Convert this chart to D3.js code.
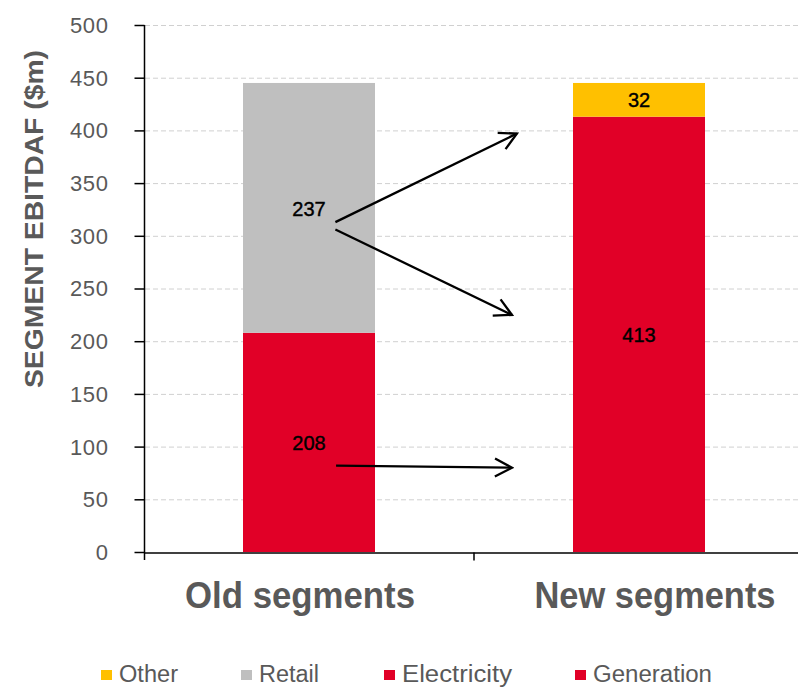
<!DOCTYPE html>
<html>
<head>
<meta charset="utf-8">
<script src="https://cdn.jsdelivr.net/npm/d3@7"></script>
<style>
  body { margin: 0; background: #fff; }
</style>
</head>
<body>
<div id="container"></div>
<script>
const w = 798;
const h = 687;

// chart data
const categories = ['Old segments', 'New segments'];
const seriesNames = ['Generation', 'Retail', 'Electricity', 'Other'];
const seriesColors = ['#e10027', '#bfbfbf', '#e10027', '#ffc000'];
const generation = [208, 0];
const retail = [237, 0];
const electricity = [0, 413];
const other = [0, 32];
const yTicks = [0, 50, 100, 150, 200, 250, 300, 350, 400, 450, 500];
const legendOrder = ['Other', 'Retail', 'Electricity', 'Generation'];

// arrows: from a point in one band to a point in another, band position as fraction
const arrows = [
  { from: ['Old segments', 0.58, 313], to: ['New segments', 0.13, 397] },
  { from: ['Old segments', 0.58, 306], to: ['New segments', 0.115, 225] },
  { from: ['Old segments', 0.582, 82], to: ['New segments', 0.115, 80] }
];

const grey = '#595959';

const svg = d3.select('#container')
  .append('svg')
  .attr('width', w)
  .attr('height', h)
  .attr('viewBox', [0, 0, w, h]);

const x = d3.scaleBand()
  .domain(categories)
  .range([144, 804])
  .padding(0);

const y = d3.scaleLinear()
  .domain([0, 500])
  .range([552, 25]);

const barW = x.bandwidth() * 0.4;

// grid lines
svg.append('g')
  .selectAll('line')
  .data(yTicks.filter(d => d > 0))
  .enter()
  .append('line')
  .attr('x1', 145)
  .attr('x2', w)
  .attr('y1', d => y(d) + 0.5)
  .attr('y2', d => y(d) + 0.5)
  .attr('stroke', '#d0d0d0')
  .attr('stroke-dasharray', '5,3');

// stacked bars
const table = categories.map((c, i) => ({
  cat: c,
  Generation: generation[i],
  Retail: retail[i],
  Electricity: electricity[i],
  Other: other[i]
}));

const stack = d3.stack().keys(seriesNames)(table);

const layers = svg.append('g')
  .selectAll('g')
  .data(stack)
  .enter()
  .append('g')
  .attr('fill', (d, i) => seriesColors[i]);

layers.selectAll('rect')
  .data(d => d.filter(s => s[1] - s[0] > 0))
  .enter()
  .append('rect')
  .attr('x', d => x(d.data.cat) + (x.bandwidth() - barW) / 2)
  .attr('y', d => y(d[1]))
  .attr('height', d => y(d[0]) - y(d[1]))
  .attr('width', barW);

// value labels
layers.selectAll('text')
  .data(d => d.filter(s => s[1] - s[0] > 0))
  .enter()
  .append('text')
  .attr('x', d => x(d.data.cat) + x.bandwidth() / 2)
  .attr('y', d => d[1] - d[0] < 50 ? y((d[0] + d[1]) / 2) + 7 : y((d[0] + d[1]) / 2) + 8)
  .attr('text-anchor', 'middle')
  .attr('fill', '#000')
  .attr('stroke', '#000')
  .attr('stroke-width', 0.4)
  .style('font-family', '"Liberation Sans", Arial, sans-serif')
  .style('font-size', '20px')
  .text(d => d[1] - d[0]);

// axes
const yAxis = d3.axisLeft(y)
  .tickValues(yTicks)
  .tickSize(10)
  .tickPadding(26);

const gy = svg.append('g')
  .attr('transform', 'translate(144.5,0)')
  .call(yAxis);

gy.select('.domain').attr('stroke', '#000').attr('stroke-width', 1.5)
  .attr('d', 'M0,' + y(500) + 'V' + (y(0) + 8));
gy.selectAll('.tick line').attr('stroke', '#000').attr('stroke-width', 1.5);
gy.selectAll('.tick text')
  .attr('fill', grey)
  .attr('dy', '0.34em')
  .style('font-family', '"Liberation Sans", Arial, sans-serif')
  .style('font-size', '22px')
  .style('letter-spacing', '0.6px');

const xAxis = d3.axisBottom(x).tickSize(0).tickFormat('');
const gx = svg.append('g')
  .attr('transform', 'translate(0,' + (y(0) + 0.5) + ')')
  .call(xAxis);
gx.select('.domain').attr('stroke', '#000').attr('stroke-width', 1.5);

// separator tick between categories
gx.append('line')
  .attr('x1', x(categories[1]))
  .attr('x2', x(categories[1]))
  .attr('y1', 0)
  .attr('y2', 8)
  .attr('stroke', '#000')
  .attr('stroke-width', 1.5);

// category labels
const labelShift = [-9, 16];
const labelLen = [230, 241];
svg.append('g')
  .selectAll('text')
  .data(categories)
  .enter()
  .append('text')
  .attr('x', (d, i) => x(d) + x.bandwidth() / 2 + labelShift[i])
  .attr('y', 608)
  .attr('text-anchor', 'middle')
  .attr('fill', grey)
  .style('font-family', '"Liberation Sans", Arial, sans-serif')
  .style('font-weight', 'bold')
  .style('font-size', '36px')
  .attr('textLength', (d, i) => labelLen[i])
  .attr('lengthAdjust', 'spacingAndGlyphs')
  .text(d => d);

// y title
svg.append('text')
  .attr('transform', 'translate(43,219) rotate(-90)')
  .attr('text-anchor', 'middle')
  .attr('fill', grey)
  .style('font-family', '"Liberation Sans", Arial, sans-serif')
  .style('font-weight', 'bold')
  .style('font-size', '25px')
  .attr('textLength', 338)
  .attr('lengthAdjust', 'spacingAndGlyphs')
  .text('SEGMENT EBITDAF ($m)');

// arrows
svg.append('defs').append('marker')
  .attr('id', 'arrow')
  .attr('viewBox', '0 0 22 22')
  .attr('refX', 20)
  .attr('refY', 11)
  .attr('markerWidth', 22)
  .attr('markerHeight', 22)
  .attr('markerUnits', 'userSpaceOnUse')
  .attr('orient', 'auto')
  .append('path')
  .attr('d', 'M3,2 L20,11 L3,20')
  .attr('fill', 'none')
  .attr('stroke', '#000')
  .attr('stroke-width', 2.3);

const px = (cat, f) => x(cat) + x.bandwidth() * f;

svg.append('g')
  .selectAll('line')
  .data(arrows)
  .enter()
  .append('line')
  .attr('x1', d => px(d.from[0], d.from[1]))
  .attr('y1', d => y(d.from[2]))
  .attr('x2', d => px(d.to[0], d.to[1]))
  .attr('y2', d => y(d.to[2]))
  .attr('stroke', '#000')
  .attr('stroke-width', 2.3)
  .attr('marker-end', 'url(#arrow)');

// legend
const legendX = [101, 241, 384, 575];
const legendLen = [59, 60, 110, 119];
const legend = svg.append('g')
  .selectAll('g')
  .data(legendOrder)
  .enter()
  .append('g')
  .attr('transform', (d, i) => 'translate(' + legendX[i] + ',670)');

legend.append('rect')
  .attr('width', 11)
  .attr('height', 10)
  .attr('fill', d => seriesColors[seriesNames.indexOf(d)]);

legend.append('text')
  .attr('x', 18)
  .attr('y', 12)
  .attr('fill', grey)
  .style('font-family', '"Liberation Sans", Arial, sans-serif')
  .style('font-size', '23px')
  .attr('textLength', (d, i) => legendLen[i])
  .attr('lengthAdjust', 'spacingAndGlyphs')
  .text(d => d);
</script>
</body>
</html>
